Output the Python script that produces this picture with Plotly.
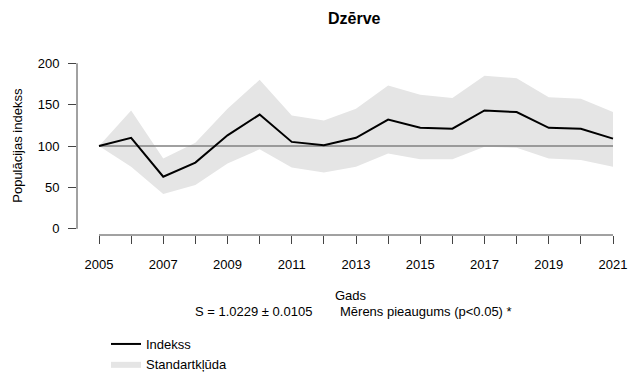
import plotly.graph_objects as go

# Population index of the common crane, 2005-2021
years = list(range(2005, 2022))
index = [100, 110, 63, 80, 113, 138, 105, 101, 110, 132, 122, 121, 143, 141, 122, 121, 109]
upper = [100, 143, 85, 104, 145, 180, 137, 131, 145, 173, 162, 158, 185, 182, 159, 157, 141]
lower = [100, 75, 42, 53, 79, 96, 74, 68, 75, 91, 84, 84, 99, 98, 85, 83, 75]
baseline = 100

y_ticks = [0, 50, 100, 150, 200]
x_label_years = [y for y in years if y % 2 == 1]

title_text = "Dzērve"
y_title = "Populācijas indekss"
x_title = "Gads"
slope_text = "S = 1.0229 ± 0.0105"
trend_text = "Mērens pieaugums (p<0.05) *"

FONT = "Liberation Sans, Arial, sans-serif"
AXIS_COLOR = "#444444"
BAND_COLOR = "#e5e5e5"

W, H = 628, 374
ML, MR, MT = 77, 5, 55
PLOT_BOTTOM = 235.5
MB = H - PLOT_BOTTOM

px_per_year = 32.125
px_per_unit = 0.83
x_range = [years[0] - (99 - ML) / px_per_year, years[-1] + (W - MR - 613) / px_per_year]
y_range = [-(PLOT_BOTTOM - 229.3) / px_per_unit, 200 + (63.3 - MT) / px_per_unit]

plot_w = W - ML - MR
plot_h = PLOT_BOTTOM - MT


def paper_x(px):
    return (px - ML) / plot_w


def paper_y(py):
    return (PLOT_BOTTOM - py) / plot_h


fig = go.Figure()

# standard-error band
fig.add_trace(go.Scatter(
    x=years, y=lower, mode="lines", line=dict(width=0, color=BAND_COLOR),
    showlegend=False, hoverinfo="skip",
))
fig.add_trace(go.Scatter(
    x=years, y=upper, mode="lines", line=dict(width=0, color=BAND_COLOR),
    fill="tonexty", fillcolor=BAND_COLOR, name="Standartkļūda", legendrank=2,
))

# reference level
fig.add_trace(go.Scatter(
    x=[years[0], years[-1]], y=[baseline, baseline], mode="lines",
    line=dict(color="#808080", width=1.6), showlegend=False, hoverinfo="skip",
))

# index line
fig.add_trace(go.Scatter(
    x=years, y=index, mode="lines", line=dict(color="black", width=2),
    name="Indekss", legendrank=1,
))

# axis lines spanning the first to last tick only
fig.add_shape(type="line", xref="x", yref="paper", x0=years[0], x1=years[-1], y0=0, y1=0,
              line=dict(color=AXIS_COLOR, width=1))
fig.add_shape(type="line", xref="paper", yref="y", x0=0, x1=0, y0=y_ticks[0], y1=y_ticks[-1],
              line=dict(color=AXIS_COLOR, width=1))

fig.update_xaxes(
    range=x_range, showgrid=False, zeroline=False, showline=False,
    tickmode="array", tickvals=years,
    ticktext=[str(y) if y in x_label_years else "" for y in years],
    ticks="outside", ticklen=8, tickcolor=AXIS_COLOR, tickwidth=1,
    tickfont=dict(family=FONT, size=13, color="black"),
    ticklabelstandoff=9, automargin=False,
)
fig.update_yaxes(
    range=y_range, showgrid=False, zeroline=False, showline=False,
    tickmode="array", tickvals=y_ticks, ticktext=[str(v) for v in y_ticks],
    ticks="outside", ticklen=8, tickcolor=AXIS_COLOR, tickwidth=1,
    tickfont=dict(family=FONT, size=13, color="black"),
    ticklabelstandoff=6, automargin=False,
)

fig.add_annotation(text=f"<b>{title_text}</b>", xref="paper", yref="paper",
                   x=paper_x(354), y=paper_y(18.5), showarrow=False,
                   xanchor="center", yanchor="middle",
                   font=dict(family=FONT, size=16, color="black"))
fig.add_annotation(text=y_title, xref="paper", yref="paper",
                   x=paper_x(18), y=paper_y(146), textangle=-90, showarrow=False,
                   xanchor="center", yanchor="middle",
                   font=dict(family=FONT, size=13, color="black"))
fig.add_annotation(text=x_title, xref="paper", yref="paper",
                   x=paper_x(351), y=paper_y(296), showarrow=False,
                   xanchor="center", yanchor="middle",
                   font=dict(family=FONT, size=13, color="black"))
fig.add_annotation(text=slope_text, xref="paper", yref="paper",
                   x=paper_x(314), y=paper_y(312.5), showarrow=False,
                   xanchor="right", yanchor="middle",
                   font=dict(family=FONT, size=13, color="black"))
fig.add_annotation(text=trend_text, xref="paper", yref="paper",
                   x=paper_x(338), y=paper_y(312.5), showarrow=False,
                   xanchor="left", yanchor="middle",
                   font=dict(family=FONT, size=13, color="black"))

fig.update_layout(
    width=W, height=H,
    margin=dict(l=ML, r=MR, t=MT, b=MB, autoexpand=False),
    plot_bgcolor="white", paper_bgcolor="white",
    showlegend=True,
    legend=dict(xref="container", yref="container",
                x=106 / W, y=1 - 329 / H, xanchor="left", yanchor="top",
                traceorder="normal", tracegroupgap=0, itemwidth=30,
                font=dict(family=FONT, size=13, color="black"),
                bgcolor="rgba(0,0,0,0)"),
)

fig.write_html("out.html")
